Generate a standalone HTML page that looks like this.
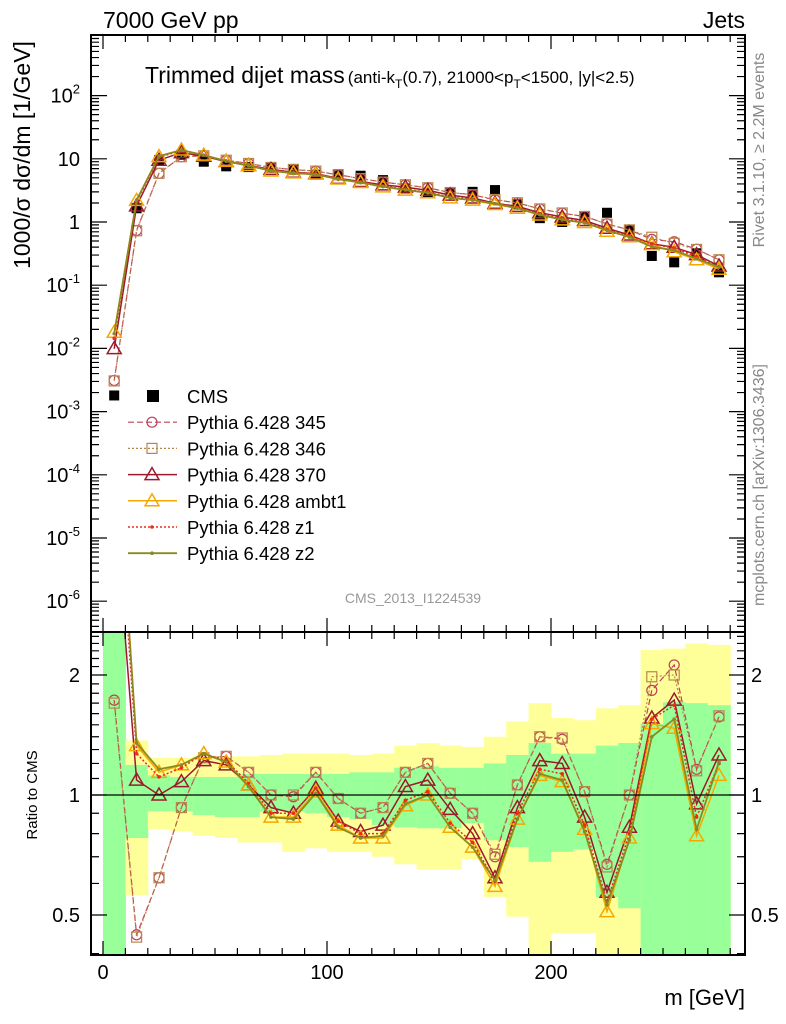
<!DOCTYPE html>
<html><head><meta charset="utf-8"><style>
html,body{margin:0;padding:0;background:#fff;}
svg{display:block;font-family:"Liberation Sans",sans-serif;}
</style></head><body>
<svg id="chart" width="786" height="1024" viewBox="0 0 786 1024" xmlns="http://www.w3.org/2000/svg">
<defs>
<clipPath id="clipMain"><rect x="91" y="35" width="654" height="597"/></clipPath>
<clipPath id="clipRatio"><rect x="91" y="632" width="654" height="323"/></clipPath>
</defs>
<g id="bands" clip-path="url(#clipRatio)"></g>
<g id="ratioLines" clip-path="url(#clipRatio)"></g>
<g id="mainLines" clip-path="url(#clipMain)"></g>
<g id="axes"></g>
<text x="103" y="28" font-size="23">7000 GeV pp</text>
<text x="745" y="28" font-size="23" text-anchor="end">Jets</text>
<text x="145" y="83" font-size="23">Trimmed dijet mass<tspan font-size="17" dx="3">(anti-k</tspan><tspan font-size="12" dy="5">T</tspan><tspan font-size="17" dy="-5">(0.7), 21000&lt;p</tspan><tspan font-size="12" dy="5">T</tspan><tspan font-size="17" dy="-5">&lt;1500, |y|&lt;2.5)</tspan></text>
<text transform="translate(30,155) rotate(-90)" font-size="23" text-anchor="middle">1000/σ dσ/dm [1/GeV]</text>
<text transform="translate(37,795) rotate(-90)" font-size="15" text-anchor="middle">Ratio to CMS</text>
<text x="745" y="1005" font-size="22" text-anchor="end">m [GeV]</text>
<text transform="translate(764,150) rotate(-90)" font-size="16" fill="#888" text-anchor="middle">Rivet 3.1.10, ≥ 2.2M events</text>
<text transform="translate(764,485) rotate(-90)" font-size="16" fill="#888" text-anchor="middle">mcplots.cern.ch [arXiv:1306.3436]</text>
<text x="413" y="603" font-size="14" fill="#999" text-anchor="middle">CMS_2013_I1224539</text>
<g id="legend"></g>
</svg>
<script>
const cats = [5,15,25,35,45,55,65,75,85,95,105,115,125,135,145,155,165,175,185,195,205,215,225,235,245,255,265,275];
const cms = [0.0018,1.65,9.5,11.6,9.0,7.6,7.4,7.3,6.8,5.6,5.7,5.4,4.6,3.4,2.9,2.9,3.0,3.2,1.9,1.15,1.0,1.2,1.4,0.75,0.29,0.23,0.32,0.16];
const r345 = [1.73,0.446,0.62,0.93,1.24,1.25,1.14,1.0,0.99,1.14,0.98,0.90,0.93,1.14,1.20,1.01,0.90,0.70,1.06,1.40,1.38,1.02,0.67,1.0,1.83,2.12,1.16,1.57];
const r346 = [1.70,0.44,0.62,0.93,1.24,1.25,1.14,1.0,1.0,1.14,0.98,0.90,0.93,1.14,1.20,1.01,0.90,0.71,1.06,1.40,1.39,1.02,0.66,1.0,1.98,2.0,1.15,1.58];
const r370 = [5.5,1.09,1.0,1.08,1.22,1.19,1.06,0.93,0.90,1.04,0.86,0.81,0.84,1.05,1.09,0.92,0.80,0.62,0.93,1.22,1.20,0.88,0.57,0.83,1.56,1.73,0.95,1.26];
const rAmbt1 = [10,1.33,1.14,1.19,1.27,1.21,1.06,0.88,0.88,1.02,0.84,0.78,0.78,0.94,1.0,0.83,0.74,0.59,0.87,1.12,1.08,0.82,0.51,0.78,1.51,1.47,0.79,1.12];
const rZ1 = [8,1.27,1.11,1.17,1.27,1.22,1.07,0.90,0.90,1.04,0.86,0.80,0.80,0.97,1.02,0.85,0.76,0.61,0.90,1.16,1.13,0.84,0.54,0.80,1.55,1.68,0.88,1.20];
const rZ2 = [9.5,1.35,1.16,1.19,1.27,1.21,1.05,0.88,0.87,1.01,0.83,0.78,0.79,0.95,1.0,0.83,0.74,0.61,0.87,1.13,1.09,0.81,0.53,0.77,1.40,1.55,0.82,1.21];
const greenHi = [2.6,1.19,1.12,1.11,1.11,1.11,1.13,1.13,1.13,1.13,1.13,1.14,1.14,1.17,1.18,1.17,1.17,1.20,1.26,1.35,1.27,1.27,1.33,1.35,1.51,1.71,1.70,1.68];
const greenLo = [0.39,0.78,0.91,0.91,0.89,0.88,0.88,0.91,0.91,0.90,0.88,0.87,0.84,0.83,0.825,0.825,0.85,0.77,0.74,0.68,0.72,0.73,0.555,0.52,0.39,0.39,0.39,0.39];
const yellowHi = [2.6,1.37,1.24,1.24,1.25,1.25,1.25,1.26,1.27,1.27,1.27,1.26,1.27,1.33,1.35,1.33,1.32,1.40,1.53,1.70,1.56,1.54,1.65,1.68,2.31,2.33,2.40,2.38];
const yellowLo = [0.39,0.56,0.82,0.81,0.79,0.78,0.76,0.76,0.72,0.735,0.72,0.72,0.70,0.67,0.65,0.65,0.69,0.555,0.495,0.39,0.45,0.45,0.39,0.39,0.39,0.39,0.39,0.39];
const mainTicks = ["10<tspan dy='-9' font-size='13'>-6</tspan>","10<tspan dy='-9' font-size='13'>-5</tspan>","10<tspan dy='-9' font-size='13'>-4</tspan>","10<tspan dy='-9' font-size='13'>-3</tspan>","10<tspan dy='-9' font-size='13'>-2</tspan>","10<tspan dy='-9' font-size='13'>-1</tspan>","1","10","10<tspan dy='-9' font-size='13'>2</tspan>"];
const xTicks = [0,100,200];

const NS="http://www.w3.org/2000/svg";
const X0=103, XS=2.24;
const xs = m => X0 + m*XS;
const ym = v => 222 - 63.2*Math.log10(v);
const yr = r => 795 - 398.6*Math.log10(r);
function mk(tag, parent, attrs){const e=document.createElementNS(NS,tag);for(const k in attrs)e.setAttribute(k,attrs[k]);parent.appendChild(e);return e;}

const gB=document.getElementById('bands');
cats.forEach((c,i)=>{
  const x1=xs(c-5), x2=xs(c+5);
  const ry=mk('rect',gB,{x:x1,y:yr(yellowHi[i]),width:x2-x1+0.5,height:yr(yellowLo[i])-yr(yellowHi[i]),fill:'#ffff99'});
  
  
  const rg=mk('rect',gB,{x:x1,y:yr(greenHi[i]),width:x2-x1+0.5,height:yr(greenLo[i])-yr(greenHi[i]),fill:'#99ff99'});
  
  
});

const series=[
 {name:'345',r:r345,color:'#c0405a',dash:'6,3',marker:'circle',w:1.2},
 {name:'346',r:r346,color:'#b8864b',dash:'2,2',marker:'square',w:1.2},
 {name:'370',r:r370,color:'#9b1a2c',dash:'',marker:'tri',w:1.5},
 {name:'ambt1',r:rAmbt1,color:'#f5a800',dash:'',marker:'tri',w:1.5},
 {name:'z1',r:rZ1,color:'#ee2a1a',dash:'2,2',marker:'dot',w:1.5},
 {name:'z2',r:rZ2,color:'#8a8a20',dash:'',marker:'dot',w:1.8}
];
function marker(g,type,x,y,color){
  let e;
  if(type==='circle') e=mk('circle',g,{cx:x,cy:y,r:5,fill:'none',stroke:color,'stroke-width':1.2});
  else if(type==='square') e=mk('rect',g,{x:x-5,y:y-5,width:10,height:10,fill:'none',stroke:color,'stroke-width':1.2});
  else if(type==='tri') e=mk('polygon',g,{points:`${x},${y-7} ${x-7},${y+5} ${x+7},${y+5}`,fill:'none',stroke:color,'stroke-width':1.5});
  else e=mk('circle',g,{cx:x,cy:y,r:1.8,fill:color});
  return e;
}
const gR=document.getElementById('ratioLines'), gM=document.getElementById('mainLines');
// CMS data points (drawn first, MC on top)
cats.forEach((c,i)=>{
  const q=mk('rect',gM,{x:xs(c)-5,y:ym(cms[i])-5,width:10,height:10,fill:'#000'});
  
  
});
series.forEach(s=>{
  const pr=cats.map((c,i)=>xs(c)+','+yr(s.r[i]).toFixed(1)).join(' ');
  const lr=mk('polyline',gR,{points:pr,fill:'none',stroke:s.color,'stroke-width':s.w,'stroke-dasharray':s.dash});
  
  
  const pm=cats.map((c,i)=>xs(c)+','+ym(cms[i]*s.r[i]).toFixed(1)).join(' ');
  const lm=mk('polyline',gM,{points:pm,fill:'none',stroke:s.color,'stroke-width':s.w,'stroke-dasharray':s.dash});
  
  
  cats.forEach((c,i)=>{
    const a=marker(gR,s.marker,xs(c),yr(s.r[i]),s.color);
    
    
    const b=marker(gM,s.marker,xs(c),ym(cms[i]*s.r[i]),s.color);
    
    
  });
});
const one=mk('line',gR,{x1:91,x2:745,y1:yr(1),y2:yr(1),stroke:'#000','stroke-width':1.2});



const gA=document.getElementById('axes');
const f1=mk('rect',gA,{x:91,y:35,width:654,height:597,fill:'none',stroke:'#000','stroke-width':2});


const f2=mk('rect',gA,{x:91,y:632,width:654,height:323,fill:'none',stroke:'#000','stroke-width':2});


let tp='';
for(let m=0;m<=280;m+=10){
  const x=xs(m), L=(m%100===0)?14:7;
  tp+=`M${x},35v${L}M${x},632v${-L}M${x},632v${L}M${x},955v${-L}`;
}
for(let d=-7;d<=2;d++){
  for(let k=1;k<10;k++){
    const y=ym(k*Math.pow(10,d)); if(y<35||y>632) continue;
    const L=k===1?16:8;
    tp+=`M91,${y}h${L}M745,${y}h${-L}`;
  }
}
const rt=[0.4,0.5,0.6,0.7,0.8,0.9,1,1.1,1.2,1.3,1.4,1.5,1.6,1.7,1.8,1.9,2,2.1,2.2,2.3,2.4,2.5];
rt.forEach(r=>{const y=yr(r);if(y<632||y>955)return;const L=(r===0.5||r===1||r===2)?16:8;tp+=`M91,${y}h${L}M745,${y}h${-L}`;});
const tk=mk('path',gA,{d:tp,stroke:'#000','stroke-width':1.2,fill:'none'});


xTicks.forEach(v=>{
  const t=mk('text',gA,{x:xs(v),y:979,'font-size':20,'text-anchor':'middle'});
  t.textContent=v;
  
  
});
mainTicks.forEach((lab,i)=>{
  const t=mk('text',gA,{x:80,y:ym(Math.pow(10,i-6))+7,'font-size':20,'text-anchor':'end'});
  t.innerHTML=lab;
  
  
});
[[2,'2'],[0.5,'0.5'],[1,'1']].forEach(([v,l])=>{
  const a=mk('text',gA,{x:80,y:yr(v)+7,'font-size':20,'text-anchor':'end'});a.textContent=l;
  
  
  const b=mk('text',gA,{x:751,y:yr(v)+7,'font-size':20,'text-anchor':'start'});b.textContent=l;
  
  
});

const gL=document.getElementById('legend');
const labels=['CMS','Pythia 6.428 345','Pythia 6.428 346','Pythia 6.428 370','Pythia 6.428 ambt1','Pythia 6.428 z1','Pythia 6.428 z2'];
labels.forEach((lab,i)=>{
  const y=396+i*26.2;
  const ent=mk('g',gL,{});
  
  
  if(i===0){ mk('rect',ent,{x:147,y:y-6,width:12,height:12,fill:'#000'}); }
  else{
    const s=series[i-1];
    mk('line',ent,{x1:128,x2:177,y1:y,y2:y,stroke:s.color,'stroke-width':s.w,'stroke-dasharray':s.dash});
    marker(ent,s.marker,152,y,s.color);
  }
  const t=mk('text',ent,{x:187,y:y+7,'font-size':18.5});
  t.textContent=lab;
});
</script>
</body></html>
